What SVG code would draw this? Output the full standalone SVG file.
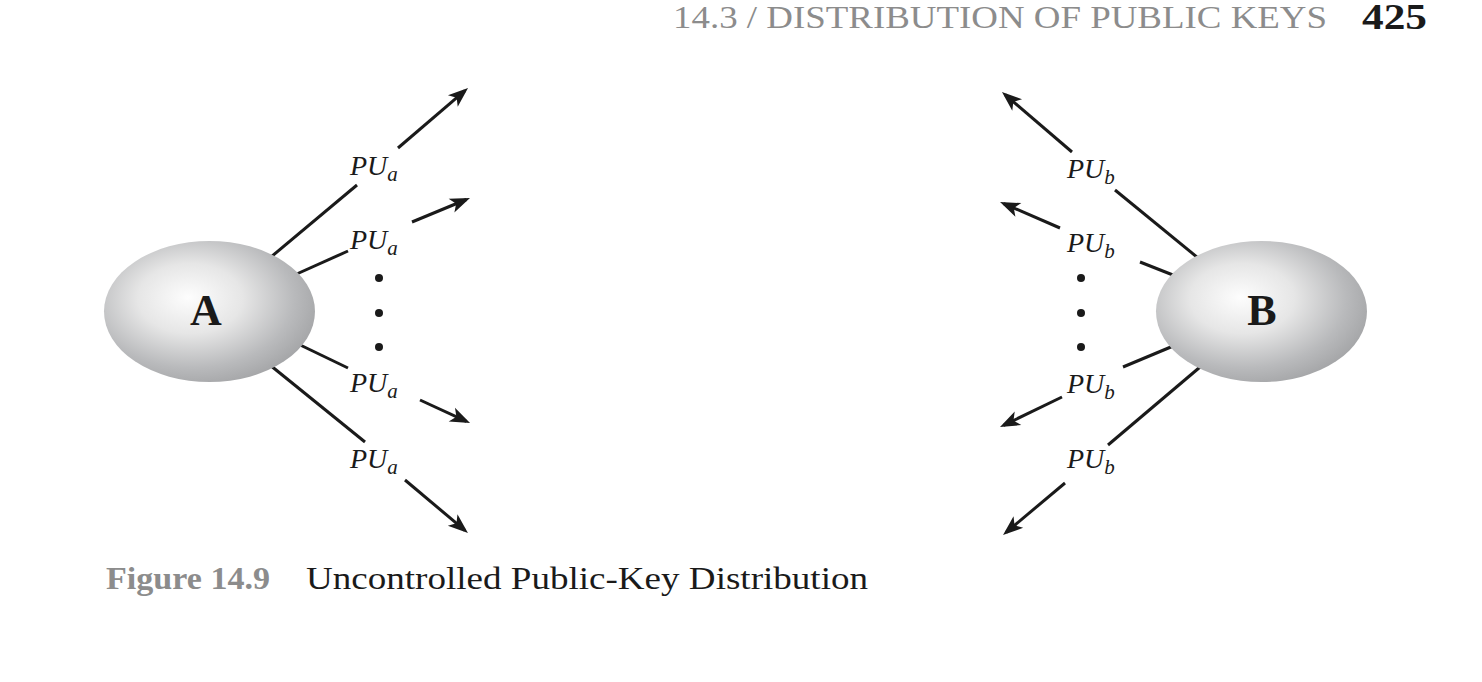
<svg xmlns="http://www.w3.org/2000/svg" width="1482" height="682" viewBox="0 0 1482 682">
<style>
text{font-family:"Liberation Serif","Times New Roman",Times,serif}
.hdr{font-size:31px;fill:#8c8c8c}
.pg{font-size:35px;font-weight:bold;fill:#1a1a1a}
.capn{font-size:31px;font-weight:bold;fill:#8c8c8c}
.capt{font-size:31px;fill:#1a1a1a}
.node{font-size:44px;font-weight:bold;fill:#1a1a1a;text-anchor:middle}
.lbl{font-size:28px;font-style:italic;fill:#1a1a1a}
.sub{font-size:21px}
.ln{stroke:#1a1a1a;stroke-width:3;fill:none}
.arr{stroke:#1a1a1a;stroke-width:3;fill:none;marker-end:url(#ah)}
.dot{fill:#1a1a1a}
</style>
<defs>
<radialGradient id="g" cx="0.42" cy="0.42" r="0.62" fx="0.4" fy="0.4">
<stop offset="0" stop-color="#fdfdfd"/>
<stop offset="0.4" stop-color="#e6e6e6"/>
<stop offset="0.78" stop-color="#b9babc"/>
<stop offset="1" stop-color="#a4a5a7"/>
</radialGradient>
<marker id="ah" markerUnits="userSpaceOnUse" markerWidth="30" markerHeight="20" viewBox="-20 -10 30 20" refX="0" refY="0" orient="auto">
<path d="M4,0 L-16,-7.5 L-11,0 L-16,7.5 Z" fill="#1a1a1a"/>
</marker>
</defs>
<rect width="1482" height="682" fill="#ffffff"/>
<text class="hdr" x="673" y="28" textLength="654" lengthAdjust="spacingAndGlyphs">14.3 / DISTRIBUTION OF PUBLIC KEYS</text>
<text class="pg" x="1362" y="29" textLength="65" lengthAdjust="spacingAndGlyphs">425</text>
<g id="connectors">
<line class="ln" x1="265" y1="262" x2="357" y2="185"/>
<line class="arr" x1="398" y1="148" x2="465.0" y2="90.6"/>
<line class="ln" x1="290" y1="277" x2="348" y2="251"/>
<line class="arr" x1="412" y1="222" x2="466.3" y2="199.5"/>
<line class="ln" x1="294" y1="342" x2="348" y2="368"/>
<line class="arr" x1="420" y1="400" x2="466.4" y2="421.3"/>
<line class="ln" x1="265" y1="361" x2="365" y2="442"/>
<line class="arr" x1="405" y1="480" x2="464.9" y2="530.4"/>
<line class="ln" x1="1203" y1="262" x2="1115" y2="190"/>
<line class="arr" x1="1072" y1="152" x2="1005.0" y2="94.6"/>
<line class="ln" x1="1178" y1="277" x2="1140" y2="262"/>
<line class="arr" x1="1060" y1="228" x2="1003.7" y2="203.6"/>
<line class="ln" x1="1178" y1="344" x2="1123" y2="367"/>
<line class="arr" x1="1062" y1="397" x2="1003.6" y2="425.3"/>
<line class="ln" x1="1206" y1="362" x2="1108" y2="445"/>
<line class="arr" x1="1065" y1="483" x2="1006.1" y2="532.4"/>
</g>
<g id="nodeA">
<ellipse cx="209.5" cy="311.5" rx="105.5" ry="70.5" fill="url(#g)"/>
<text class="node" x="206" y="325">A</text>
</g>
<g id="nodeB">
<ellipse cx="1261.5" cy="311.5" rx="105.5" ry="70.5" fill="url(#g)"/>
<text class="node" x="1262" y="325">B</text>
</g>
<g id="labelsA">
<text class="lbl" x="350" y="175">PU<tspan class="sub" dy="6">a</tspan></text>
<text class="lbl" x="350" y="249">PU<tspan class="sub" dy="6">a</tspan></text>
<text class="lbl" x="350" y="392">PU<tspan class="sub" dy="6">a</tspan></text>
<text class="lbl" x="350" y="468">PU<tspan class="sub" dy="6">a</tspan></text>
<circle class="dot" cx="379" cy="278" r="4"/>
<circle class="dot" cx="379" cy="313" r="4"/>
<circle class="dot" cx="379" cy="347" r="4"/>
</g>
<g id="labelsB">
<text class="lbl" x="1067" y="178">PU<tspan class="sub" dy="6">b</tspan></text>
<text class="lbl" x="1067" y="252">PU<tspan class="sub" dy="6">b</tspan></text>
<text class="lbl" x="1067" y="393">PU<tspan class="sub" dy="6">b</tspan></text>
<text class="lbl" x="1067" y="468">PU<tspan class="sub" dy="6">b</tspan></text>
<circle class="dot" cx="1081" cy="278" r="4"/>
<circle class="dot" cx="1081" cy="313" r="4"/>
<circle class="dot" cx="1081" cy="347" r="4"/>
</g>
<text class="capn" x="106" y="589" textLength="164" lengthAdjust="spacingAndGlyphs">Figure 14.9</text>
<text class="capt" x="306" y="589" textLength="562" lengthAdjust="spacingAndGlyphs">Uncontrolled Public-Key Distribution</text>
</svg>
